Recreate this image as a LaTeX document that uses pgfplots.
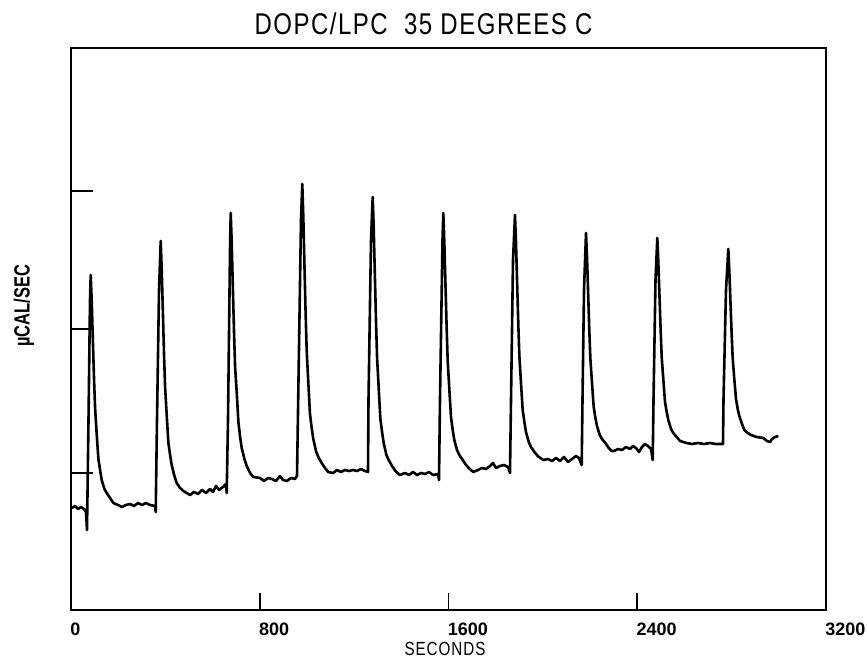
\documentclass[border=0pt]{standalone}
\usepackage{fontspec}
\setmainfont{Liberation Sans}
\newfontfamily\plotfont[FakeStretch=0.8,LetterSpace=5]{Liberation Sans}
\newfontfamily\labfont[FakeStretch=0.75]{Liberation Sans}
\usepackage{pgfplots}
\pgfplotsset{compat=1.18}
\usepackage{pgfplotstable}
\pgfplotstableread{
x y
4.2 102
17.0 104
29.7 101
42.4 103
55.1 101
63.6 98
67.8 80
74.2 190
80.5 310
83.5 335
87.7 310
92.0 275
97.9 229
102.1 202
108.9 176
116.1 151
123.3 140
130.1 130
141.6 121
151.3 117
165.7 112
179.7 107
199.2 105
216.2 103
233.1 105
250.1 106
267.0 104
284.0 107
300.9 105
317.9 107
334.8 105
356.0 104
359.0 98
364.5 190
373.0 320
380.2 369
384.4 341
388.7 304
394.6 253
398.8 223
405.6 195
412.8 167
420.0 155
426.8 145
438.3 134
448.0 127
462.4 122
476.4 119
490.4 117
504.4 115
521.3 118
538.3 116
555.2 120
572.2 117
589.1 121
601.9 118
614.6 124
627.3 120
644.2 123
656.9 126
659.9 117
665.4 190
673.9 360
676.9 397
681.1 368
685.4 328
691.3 275
695.5 243
702.3 218
709.5 188
716.7 173
723.5 162
735.0 151
744.7 144
759.1 137
773.1 133
801.1 132
818.0 129
835.0 132
851.9 131
868.9 129
885.8 134
898.5 130
915.5 129
932.4 132
949.4 131
957.9 134
964.2 230
974.8 390
980.3 426
984.5 394
988.8 351
994.7 294
998.9 260
1005.7 228
1012.9 196
1020.1 182
1026.9 171
1038.4 159
1048.1 153
1062.5 147
1076.5 142
1090.5 138
1111.7 137
1127.4 140
1144.4 138
1161.3 140
1178.3 139
1195.2 140
1212.2 139
1229.1 141
1246.1 139
1258.8 138
1260.9 210
1271.5 370
1278.7 413
1282.9 383
1287.2 341
1293.1 286
1297.3 252
1304.1 222
1311.3 191
1318.5 178
1325.3 167
1336.8 155
1346.5 150
1360.9 144
1374.9 139
1394.4 135
1415.6 137
1432.6 135
1449.5 138
1466.5 135
1483.4 137
1500.4 136
1517.3 138
1534.3 135
1555.5 136
1559.7 130
1563.9 210
1574.6 370
1578.0 397
1582.2 369
1586.5 331
1592.4 280
1596.6 249
1603.4 221
1610.6 193
1617.8 180
1624.6 170
1636.1 160
1645.8 155
1660.2 150
1674.2 145
1690.0 141
1705.1 138
1725.0 140
1742.0 142
1758.9 141
1775.9 144
1788.6 147
1801.3 142
1818.3 144
1835.2 145
1852.2 143
1860.6 137
1864.9 210
1873.4 350
1881.8 395
1886.0 368
1890.3 332
1896.2 283
1900.4 254
1907.2 227
1914.4 200
1921.6 188
1928.4 178
1939.9 168
1949.6 163
1964.0 158
1978.0 154
2001.8 150
2021.7 151
2038.7 149
2055.6 152
2072.6 149
2089.5 153
2106.5 148
2123.4 151
2140.4 154
2153.1 152
2164.5 145
2167.9 210
2174.3 320
2182.8 377
2187.0 353
2191.3 321
2197.2 277
2201.4 251
2208.2 227
2215.4 203
2222.6 192
2229.4 184
2240.9 175
2250.6 171
2265.0 167
2279.0 162
2292.0 159
2301.5 159
2318.4 161
2335.4 160
2352.3 163
2369.3 161
2382.0 164
2394.7 162
2407.4 158
2420.1 163
2432.8 166
2445.5 164
2458.3 161
2465.5 150
2468.9 210
2477.3 330
2485.0 372
2489.2 349
2493.5 319
2499.4 278
2503.6 253
2510.4 231
2517.6 208
2524.8 198
2531.6 190
2543.1 181
2552.8 177
2567.2 173
2581.2 169
2609.6 167
2632.0 166
2657.5 167
2682.9 166
2708.3 167
2733.8 166
2763.4 166
2765.5 210
2776.1 320
2785.9 361
2790.1 340
2794.4 312
2800.3 275
2804.5 252
2811.3 231
2818.5 211
2825.7 201
2832.5 194
2844.0 186
2853.7 180
2868.1 177
2882.1 175
2906.3 173
2934.3 172
2950.0 169
2962.7 168
2971.2 171
2983.9 173
2997.9 174
}\trace
\begin{document}
\begin{tikzpicture}
\begin{axis}[
  at={(0pt,0pt)}, anchor=south west,
  scale only axis,
  width=377.5pt, height=281pt,
  xmin=0, xmax=3200, ymin=0, ymax=562,
  axis line style={line width=1pt},
  tick align=inside,
  xtick pos=bottom, ytick pos=left,
  xtick={0,800,1600,2400,3200},
  xticklabels={0,800,1600,2400,3200},
  ytick={137,281,419},
  yticklabels={},
  major tick length=11pt,
  xtick style={/pgfplots/major tick length=8.5pt, black, line width=0.8pt},
  ytick style={black, line width=0.9pt},
  xticklabel style={anchor=north west, inner sep=0pt, yshift=-6.5pt, xshift=-0.5pt,
    font=\bfseries\fontsize{9}{10}\selectfont},
  /pgf/number format/assume math mode=true,
]
\addplot[black, line width=1.3pt, line join=round] table[x=x,y=y]{\trace};
\end{axis}
\node[font=\plotfont\fontsize{15}{17}\selectfont] at (176.25pt,293pt) {DOPC/LPC\ \ 35 DEGREES C};
\node[font=\plotfont\fontsize{9.5}{11}\selectfont, anchor=base] at (187pt,-23pt) {SECONDS};
\node[font=\labfont\bfseries\fontsize{11}{12}\selectfont, rotate=90] at (-23.5pt,152pt) {µCAL/SEC};
\pgfresetboundingbox
\path[use as bounding box] (-35.5pt,-24pt) rectangle (398pt,305pt);
\end{tikzpicture}
\end{document}
